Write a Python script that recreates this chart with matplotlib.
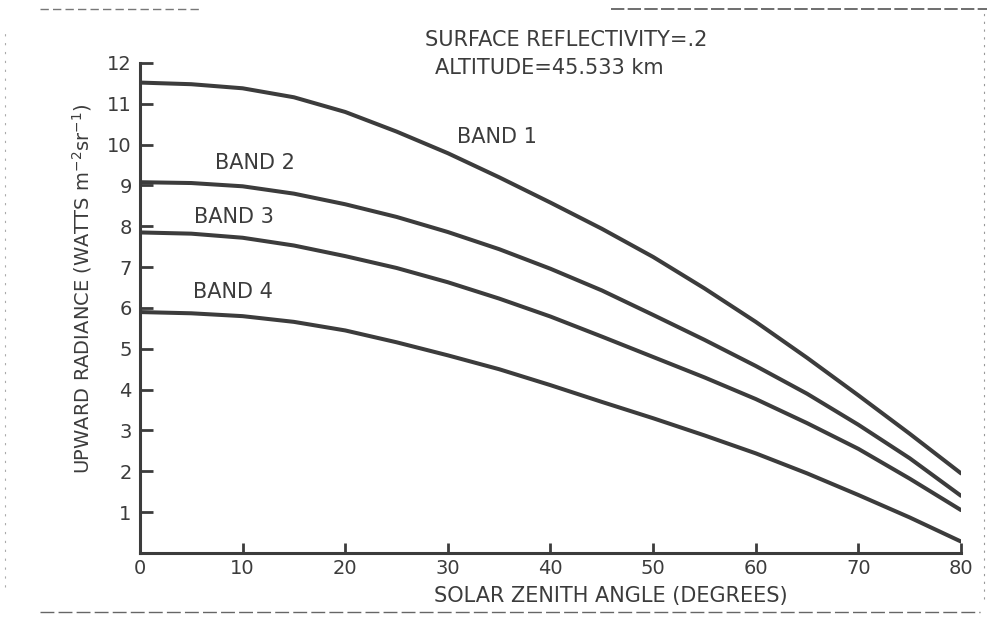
import matplotlib
matplotlib.use("Agg")
import matplotlib.pyplot as plt
from matplotlib.lines import Line2D

plt.rcParams.update({'font.family': 'DejaVu Sans', 'font.size': 14,
                     'axes.unicode_minus': False})

# solar zenith angle (degrees)
angle = [0, 5, 10, 15, 20, 25, 30, 35, 40, 45, 50, 55, 60, 65, 70, 75, 80]

# upward radiance (W m^-2 sr^-1)
band1 = [11.52, 11.48, 11.38, 11.16, 10.80, 10.32, 9.79, 9.20, 8.58, 7.94, 7.25, 6.48, 5.66, 4.78, 3.86, 2.92, 1.95]
band2 = [9.08, 9.06, 8.98, 8.80, 8.54, 8.23, 7.86, 7.44, 6.96, 6.43, 5.83, 5.22, 4.58, 3.90, 3.14, 2.32, 1.40]
band3 = [7.85, 7.82, 7.72, 7.53, 7.27, 6.98, 6.63, 6.23, 5.79, 5.30, 4.80, 4.30, 3.77, 3.18, 2.55, 1.82, 1.05]
band4 = [5.90, 5.87, 5.80, 5.66, 5.45, 5.16, 4.84, 4.50, 4.11, 3.70, 3.30, 2.88, 2.44, 1.95, 1.42, 0.87, 0.28]

xticks = [0, 10, 20, 30, 40, 50, 60, 70, 80]
yticks = [1, 2, 3, 4, 5, 6, 7, 8, 9, 10, 11, 12]

ink = '#3c3c3c'

fig = plt.figure(figsize=(10.02, 6.18), dpi=100)
ax = fig.add_axes([0.1397, 0.1052, 0.8194, 0.7929])

for b in [band1, band2, band3, band4]:
    ax.plot(angle, b, color=ink, lw=2.9, solid_capstyle='round', solid_joinstyle='round')

ax.set_xlim(0, 80)
ax.set_ylim(0, 12)
ax.set_xticks(xticks)
ax.set_yticks(yticks)
ax.tick_params(axis='both', direction='in', colors=ink, labelsize=14)
ax.tick_params(axis='y', length=9, width=2, pad=6)
ax.tick_params(axis='x', length=7, width=2, pad=4)
for s in ['top', 'right']:
    ax.spines[s].set_visible(False)
for s in ['left', 'bottom']:
    ax.spines[s].set_linewidth(2.2)
    ax.spines[s].set_color(ink)

ax.set_xlabel('SOLAR ZENITH ANGLE (DEGREES)', color=ink, fontsize=15)
ax.set_ylabel('UPWARD RADIANCE (WATTS m$^{-2}$sr$^{-1}$)', color=ink, fontsize=14)
ax.xaxis.set_label_coords(0.574, -0.068)
ax.yaxis.set_label_coords(-0.056, 0.539)

# curve labels
ax.text(34.8, 10.18, 'BAND 1', color=ink, fontsize=15, ha='center', va='center')
ax.text(11.2, 9.55, 'BAND 2', color=ink, fontsize=15, ha='center', va='center')
ax.text(9.2, 8.23, 'BAND 3', color=ink, fontsize=15, ha='center', va='center')
ax.text(9.1, 6.40, 'BAND 4', color=ink, fontsize=15, ha='center', va='center')

fig.text(0.424, 0.935, 'SURFACE REFLECTIVITY=.2', color=ink, fontsize=15, ha='left', va='center')
fig.text(0.434, 0.890, 'ALTITUDE=45.533 km', color=ink, fontsize=15, ha='left', va='center')

# faint scan border
fig.add_artist(Line2D([0.04, 0.2], [0.985, 0.985], color='#777777', lw=1, ls=(0, (6, 3))))
fig.add_artist(Line2D([0.61, 0.985], [0.985, 0.985], color='#555555', lw=1.2, ls=(0, (8, 2))))
fig.add_artist(Line2D([0.982, 0.982], [0.03, 0.985], color='#999999', lw=0.8, ls=(0, (2, 5))))
fig.add_artist(Line2D([0.04, 0.978], [0.01, 0.01], color='#666666', lw=1, ls=(0, (10, 3))))
fig.add_artist(Line2D([0.005, 0.005], [0.05, 0.95], color='#aaaaaa', lw=0.8, ls=(0, (2, 6))))

fig.savefig('out.png', dpi=100, facecolor='white')
